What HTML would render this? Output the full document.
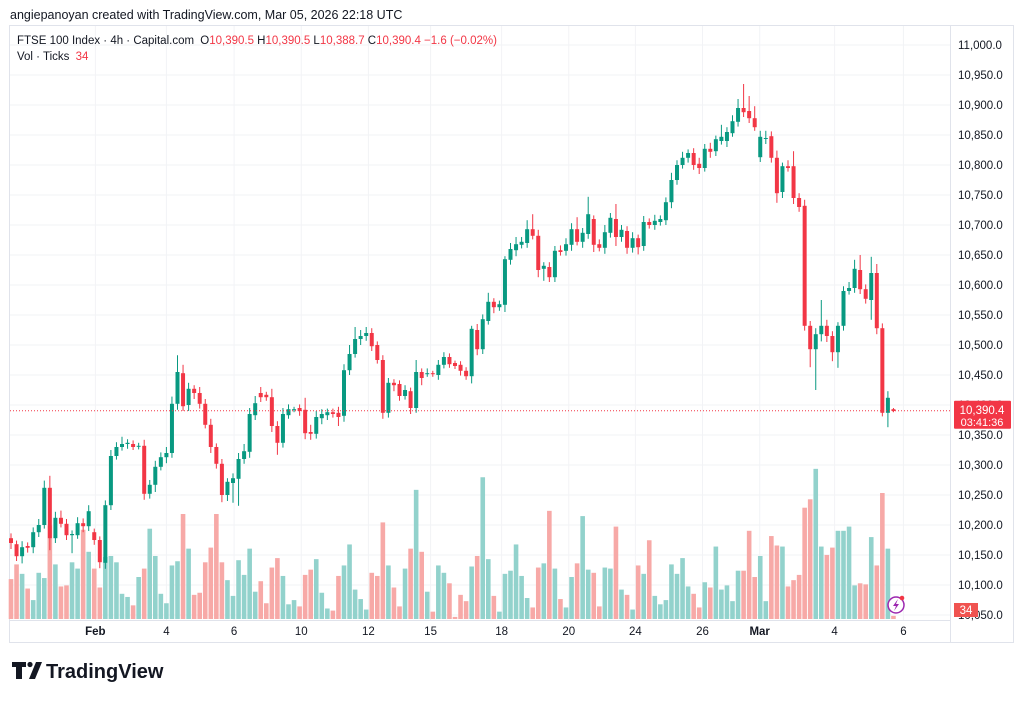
<!DOCTYPE html>
<html><head><meta charset="utf-8"><style>
body{margin:0;background:#fff;width:1024px;height:699px;overflow:hidden;font-family:"Liberation Sans",sans-serif}
svg text{font-family:"Liberation Sans",sans-serif}
</style></head><body>
<svg id="chart" width="1024" height="699" viewBox="0 0 1024 699" xmlns="http://www.w3.org/2000/svg">
<text x="10" y="19" font-size="12.5" fill="#131722">angiepanoyan created with TradingView.com, Mar 05, 2026 22:18 UTC</text>
<rect x="9.5" y="25.5" width="1004" height="617" fill="none" stroke="#e0e3eb"/>
<line x1="950.5" y1="26" x2="950.5" y2="642" stroke="#e0e3eb"/>
<line x1="10" y1="620.5" x2="950" y2="620.5" stroke="#e0e3eb"/>
<g id="grid"></g>
<g id="vols"></g>
<g id="candles"></g>
<g id="yaxis"></g>
<g id="xaxis"></g>
<text x="17" y="44" font-size="11.5" fill="#131722">FTSE 100 Index · 4h · Capital.com <tspan dx="3">O</tspan><tspan fill="#f23645">10,390.5</tspan> H<tspan fill="#f23645">10,390.5</tspan> L<tspan fill="#f23645">10,388.7</tspan> C<tspan fill="#f23645">10,390.4 −1.6 (−0.02%)</tspan></text>
<text x="17" y="60" font-size="11.5" fill="#131722">Vol · Ticks <tspan fill="#f23645" dx="3">34</tspan></text>
<g>
<path d="M12 662h14v5h-4v12h-6v-12h-4z" fill="#131722"/><circle cx="30" cy="664.5" r="2.6" fill="#131722"/><path d="M36 662h6l-7 17h-6z" fill="#131722"/>
<text x="46" y="678" font-size="20" font-weight="bold" fill="#131722">TradingView</text></g>
<g><circle cx="896" cy="605" r="8" fill="#fff" stroke="#9c27b0" stroke-width="1.5"/><path d="M898 599l-5 7h3l-2 5 5-7h-3z" fill="#9c27b0"/><circle cx="902" cy="598" r="2.3" fill="#f23645"/></g>
</svg>
<script>
const opens=[10178,10168,10148,10165,10163,10188,10200,10262,10178,10212,10202,10183,10183,10203,10198,10188,10175,10137,10233,10315,10330,10335,10335,10332,10332,10252,10267,10297,10313,10320,10402,10453,10400,10427,10420,10402,10367,10330,10302,10250,10270,10277,10310,10322,10383,10420,10417,10413,10365,10337,10383,10393,10395,10392,10355,10352,10378,10383,10388,10387,10382,10458,10485,10510,10515,10520,10500,10475,10387,10437,10435,10415,10423,10395,10455,10453,10453,10450,10467,10480,10470,10467,10457,10448,10525,10493,10540,10572,10563,10567,10642,10658,10667,10670,10693,10682,10627,10630,10613,10658,10657,10667,10693,10672,10685,10710,10668,10662,10687,10710,10680,10690,10662,10678,10665,10705,10700,10705,10708,10738,10775,10800,10812,10820,10802,10795,10827,10823,10840,10840,10853,10872,10895,10890,10878,10813,10845,10848,10812,10755,10798,10798,10745,10732,10532,10493,10518,10532,10515,10488,10532,10590,10595,10625,10593,10575,10620,10528,10387,10393];
const closes=[10170,10148,10163,10162,10188,10200,10262,10178,10212,10202,10183,10185,10203,10198,10223,10175,10138,10233,10315,10330,10335,10337,10330,10332,10252,10267,10297,10313,10320,10402,10455,10398,10427,10420,10402,10367,10330,10302,10250,10272,10278,10310,10323,10385,10403,10413,10413,10365,10337,10385,10393,10393,10390,10353,10352,10380,10385,10388,10385,10380,10458,10485,10510,10515,10520,10498,10475,10387,10437,10433,10415,10425,10395,10455,10445,10453,10452,10467,10480,10468,10465,10457,10448,10527,10493,10543,10572,10563,10568,10643,10660,10668,10672,10693,10682,10625,10632,10613,10657,10655,10668,10693,10672,10687,10718,10667,10662,10688,10712,10680,10692,10662,10678,10663,10705,10700,10707,10710,10738,10775,10800,10812,10820,10800,10795,10827,10822,10843,10847,10855,10873,10895,10888,10878,10863,10847,10845,10812,10753,10798,10795,10745,10730,10532,10493,10518,10532,10515,10488,10532,10590,10595,10627,10593,10577,10620,10528,10387,10412,10390];
const wickUp=[8,6,10,6,8,10,12,20,10,12,8,6,10,8,10,6,6,8,10,8,12,6,6,5,10,8,10,8,10,12,28,14,10,6,10,8,10,6,8,6,8,10,12,10,12,10,5,14,8,10,8,4,6,20,12,10,8,6,6,10,10,15,20,10,10,8,6,8,8,6,6,8,6,20,6,8,4,8,8,6,4,6,6,5,10,8,15,6,6,5,10,12,8,15,25,10,6,8,8,8,10,10,20,8,29,6,8,12,8,25,8,8,10,6,10,6,10,6,8,12,8,10,6,8,10,8,10,6,20,8,10,15,40,25,20,10,12,8,12,6,10,25,8,10,8,10,43,10,8,6,8,10,15,25,8,27,15,8,11,2];
const wickDown=[10,8,12,8,10,8,6,20,8,6,8,30,6,10,8,8,10,10,8,6,6,8,5,6,10,8,12,6,10,8,10,8,10,10,8,6,10,8,12,10,33,45,8,10,8,8,6,10,20,8,6,5,8,10,10,8,10,8,6,15,10,8,6,10,8,8,6,10,8,10,8,6,10,8,12,6,5,8,6,6,5,8,6,12,10,8,6,10,6,12,8,10,6,8,6,12,20,8,8,6,8,10,6,10,8,12,6,10,8,15,8,10,8,12,8,6,8,6,8,10,8,6,8,8,10,6,10,8,6,10,6,8,8,8,6,8,10,8,16,10,6,10,8,8,30,68,12,10,15,26,8,6,8,8,8,33,10,6,24,2];
const volumes=[38,52,43,29,18,44,39,89,52,31,32,54,48,85,64,48,30,59,60,54,24,21,13,40,48,86,60,24,15,51,55,100,67,23,25,54,68,100,54,37,22,56,42,67,26,36,15,49,58,41,14,18,12,42,47,57,25,10,8,41,51,71,28,19,9,44,41,92,51,30,12,48,67,123,64,26,7,51,44,34,2,23,17,50,60,135,57,22,7,43,46,71,41,20,11,49,53,103,48,19,11,40,53,98,47,44,12,49,48,88,28,23,9,51,43,75,22,14,18,52,43,58,31,24,11,35,30,69,28,32,17,46,46,84,40,60,17,79,70,69,31,37,42,106,114,143,69,61,68,84,84,88,32,34,33,78,51,120,67,3];
const priceTicks=[11000,10950,10900,10850,10800,10750,10700,10650,10600,10550,10500,10450,10400,10350,10300,10250,10200,10150,10100,10050];
const dateLabels=["Feb","4","6","10","12","15","18","20","24","26","Mar","4","6"];
const dateIndex=[15.2,28,40.2,52.3,64.4,75.6,88.4,100.5,112.5,124.6,134.9,148.4,160.8];
const lastPrice=10390.4;

const NS="http://www.w3.org/2000/svg";
function y(p){return 45+(11000-p)*0.6;}
function x(i){return 11+i*5.55;}
function vh(v){return v*1.05;}
function mk(tag,attrs,parent){const e=document.createElementNS(NS,tag);for(const k in attrs)e.setAttribute(k,attrs[k]);parent.appendChild(e);return e;}
const G=document.getElementById('grid'),V=document.getElementById('vols'),C=document.getElementById('candles'),YA=document.getElementById('yaxis'),XA=document.getElementById('xaxis');
priceTicks.forEach(p=>{
 const l=mk('line',{x1:10,x2:950,y1:y(p),y2:y(p),stroke:'#f2f3f6'},G);
 
 
 const t=mk('text',{x:958,y:y(p)+4,'font-size':11.5,fill:'#131722'},YA);
 t.textContent=p.toLocaleString('en-US',{minimumFractionDigits:1});
 
 
});
dateLabels.forEach((d,k)=>{
 const xx=x(dateIndex[k]);
 const l=mk('line',{x1:xx,x2:xx,y1:26,y2:620,stroke:'#f2f3f6'},G);
 
 
 const t=mk('text',{x:xx,y:635,'font-size':11.5,fill:'#131722','text-anchor':'middle','font-weight':d==='Feb'||d==='Mar'?'bold':'normal'},XA);
 t.textContent=d;
 
 
});
opens.forEach((o,i)=>{
 const c=closes[i],up=c>=o,cx=x(i);
 const vb=mk('rect',{x:cx-2.3,y:619-vh(volumes[i]),width:4.6,height:vh(volumes[i]),fill:up?'#92d2cc':'#f7a9a7'},V);
 
 
 const col=up?'#089981':'#f23645';
 const hi=Math.max(o,c)+wickUp[i],lo=Math.min(o,c)-wickDown[i];
 const w=mk('line',{x1:cx,x2:cx,y1:y(hi),y2:y(lo),stroke:col,'stroke-width':1},C);
 
 
 const top=y(Math.max(o,c)),bh=Math.max(1,Math.abs(y(o)-y(c)));
 const b=mk('rect',{x:cx-2,y:top,width:4,height:bh,fill:col},C);
 
 
});
const pl=mk('line',{x1:10,x2:950,y1:y(lastPrice),y2:y(lastPrice),stroke:'#f23645','stroke-dasharray':'1 2','stroke-width':1},C);


const pb=mk('rect',{x:954,y:y(lastPrice)-10,width:57,height:28,fill:'#f23645',rx:1},YA);


const pt=mk('text',{x:982,y:y(lastPrice)+3,'font-size':11.5,fill:'#fff','text-anchor':'middle'},YA);
pt.textContent=lastPrice.toLocaleString('en-US',{minimumFractionDigits:1});


const ct=mk('text',{x:982,y:y(lastPrice)+15,'font-size':11,fill:'#fff','text-anchor':'middle'},YA);
ct.textContent='03:41:36';


const vbg=mk('rect',{x:954,y:603,width:24,height:14,fill:'#f05350'},YA);


const vt=mk('text',{x:966,y:614,'font-size':11.5,fill:'#fff','text-anchor':'middle'},YA);
vt.textContent='34';


</script>
</body></html>
